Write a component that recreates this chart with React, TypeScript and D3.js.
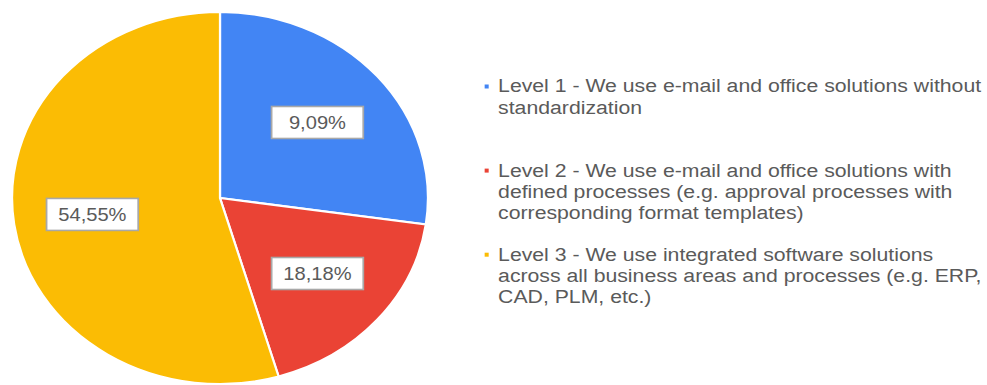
import React from "react";
import * as d3 from "d3";

// Data
const categories = ["Level 1", "Level 2", "Level 3"];
const sliceValues = [27.27, 18.18, 54.55];
const sliceLabels = ["9,09%", "18,18%", "54,55%"];
const sliceColors = ["#4285F4", "#EA4335", "#FBBC04"];
const legendLines = [
  ["Level 1 - We use e-mail and office solutions without", "standardization"],
  [
    "Level 2 - We use e-mail and office solutions with",
    "defined processes (e.g. approval processes with",
    "corresponding format templates)",
  ],
  [
    "Level 3 - We use integrated software solutions",
    "across all business areas and processes (e.g. ERP,",
    "CAD, PLM, etc.)",
  ],
];

const W = 987;
const H = 385;
const SX = 1.118; // horizontal stretch of the whole picture
const R = 186;
const CX = 220;
const CY = 198;

export default function App() {
  const pie = d3
    .pie<number>()
    .sort(null)
    .value((d) => d)
    .startAngle(0)
    .endAngle(2 * Math.PI);
  const arcs = pie(sliceValues);
  const arc = d3.arc<d3.PieArcDatum<number>>().innerRadius(0).outerRadius(R);
  const labelArc = d3
    .arc<d3.PieArcDatum<number>>()
    .innerRadius(R * 0.62)
    .outerRadius(R * 0.62);

  const legendX = 445.5;
  const legendY0 = 92.5;
  const slot = 84.1;
  const lineH = 21.4;
  const font = "Arial, 'Liberation Sans', sans-serif";

  return (
    <svg
      width={W}
      height={H}
      style={{ position: "absolute", left: 0, top: 0, background: "#fff" }}
    >
      <g transform={`scale(${SX},1)`}>
        <g transform={`translate(${CX / SX},${CY})`}>
          {arcs.map((a, i) => (
            <path
              key={categories[i]}
              d={arc(a) || ""}
              fill={sliceColors[i]}
              stroke="#fff"
              strokeWidth={2}
            />
          ))}
          {arcs.map((a, i) => {
            const [x, y] = labelArc.centroid(a);
            const bw = 82;
            const bh = 32;
            return (
              <g key={"lab" + i} transform={`translate(${x},${y})`}>
                <rect
                  x={-bw / 2}
                  y={-bh / 2}
                  width={bw}
                  height={bh}
                  fill="#fff"
                  stroke="#a8a8a8"
                  strokeWidth={1.6}
                />
                <text
                  textAnchor="middle"
                  dy="0.36em"
                  fontFamily={font}
                  fontSize={18}
                  fill="#5a5a5a"
                >
                  {sliceLabels[i]}
                </text>
              </g>
            );
          })}
        </g>
        {legendLines.map((lines, i) => {
          const y0 = legendY0 + i * slot;
          return (
            <g key={"leg" + i}>
              <rect
                x={legendX - 12}
                y={y0 - 8}
                width={3.6}
                height={4}
                fill={sliceColors[i]}
              />
              {lines.map((t, j) => (
                <text
                  key={j}
                  x={legendX}
                  y={y0 + j * lineH}
                  fontFamily={font}
                  fontSize={19}
                  fill="#5a5a5a"
                >
                  {t}
                </text>
              ))}
            </g>
          );
        })}
      </g>
    </svg>
  );
}
